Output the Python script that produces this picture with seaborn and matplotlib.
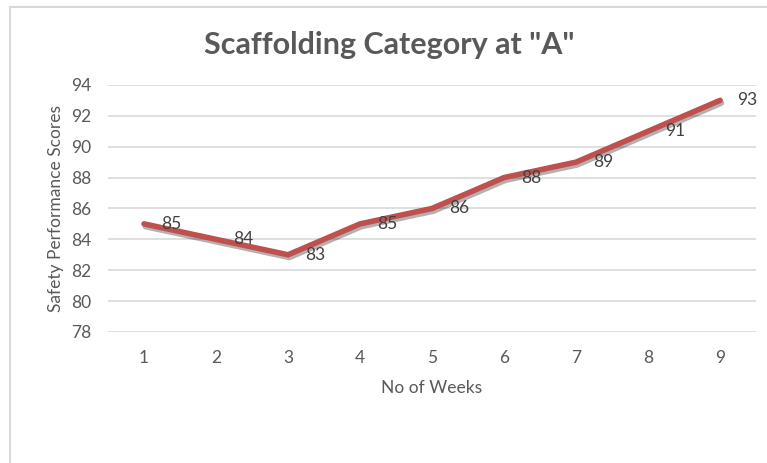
import matplotlib
matplotlib.use('Agg')
import matplotlib.pyplot as plt
import matplotlib.patheffects as pe
import matplotlib.patches as patches
import seaborn as sns
import pandas as pd

# values
weeks = [1, 2, 3, 4, 5, 6, 7, 8, 9]
scores = [85, 84, 83, 85, 86, 88, 89, 91, 93]

df = pd.DataFrame({"week": weeks, "score": scores})

sns.set_style("white")
plt.rcParams['font.family'] = ['Lato', 'DejaVu Sans']
grey = "#595959"

fig = plt.figure(figsize=(7.67, 4.63), dpi=100)
ax = fig.add_axes([0.1408, 0.283, 0.845, 0.5336])

# outer chart frame (cut off at right and bottom like the screenshot)
fig.patches.append(patches.Rectangle((10 / 767, -0.1), 1.2, 1 - 7 / 463 + 0.1,
                                     transform=fig.transFigure, fill=False,
                                     edgecolor="#d9d9d9", linewidth=1.5))

sns.lineplot(data=df, x="week", y="score", ax=ax, color="#C0504D", linewidth=4,
             path_effects=[pe.SimpleLineShadow(offset=(1, -2), alpha=0.3, shadow_color="black"),
                           pe.Normal()])

for w, s in zip(weeks, scores):
    ax.annotate(str(s), (w, s), xytext=(12.5, 0), textcoords="offset points",
                va="center", ha="left", fontsize=12.5, color="#404040")

ax.set_xlim(0.5, 9.5)
ax.set_ylim(78, 94)
ax.set_yticks(range(78, 95, 2))
ax.set_xticks(weeks)
ax.grid(axis="y", color="#d9d9d9", linewidth=1.2)
ax.set_axisbelow(True)
for sp in ax.spines.values():
    sp.set_visible(False)
ax.tick_params(axis="both", length=0, labelsize=12.5, labelcolor=grey)
ax.tick_params(axis="x", pad=13)
ax.tick_params(axis="y", pad=12)

ax.set_xlabel("No of Weeks", fontsize=12.5, color=grey, labelpad=10)
ax.set_ylabel("Safety Performance Scores", fontsize=12.5, color=grey, labelpad=5)
fig.text(0.508, 0.902, 'Scaffolding Category at "A"', ha="center", va="center",
         fontsize=22, fontweight="bold", color=grey)

fig.savefig("out.png", dpi=100)
